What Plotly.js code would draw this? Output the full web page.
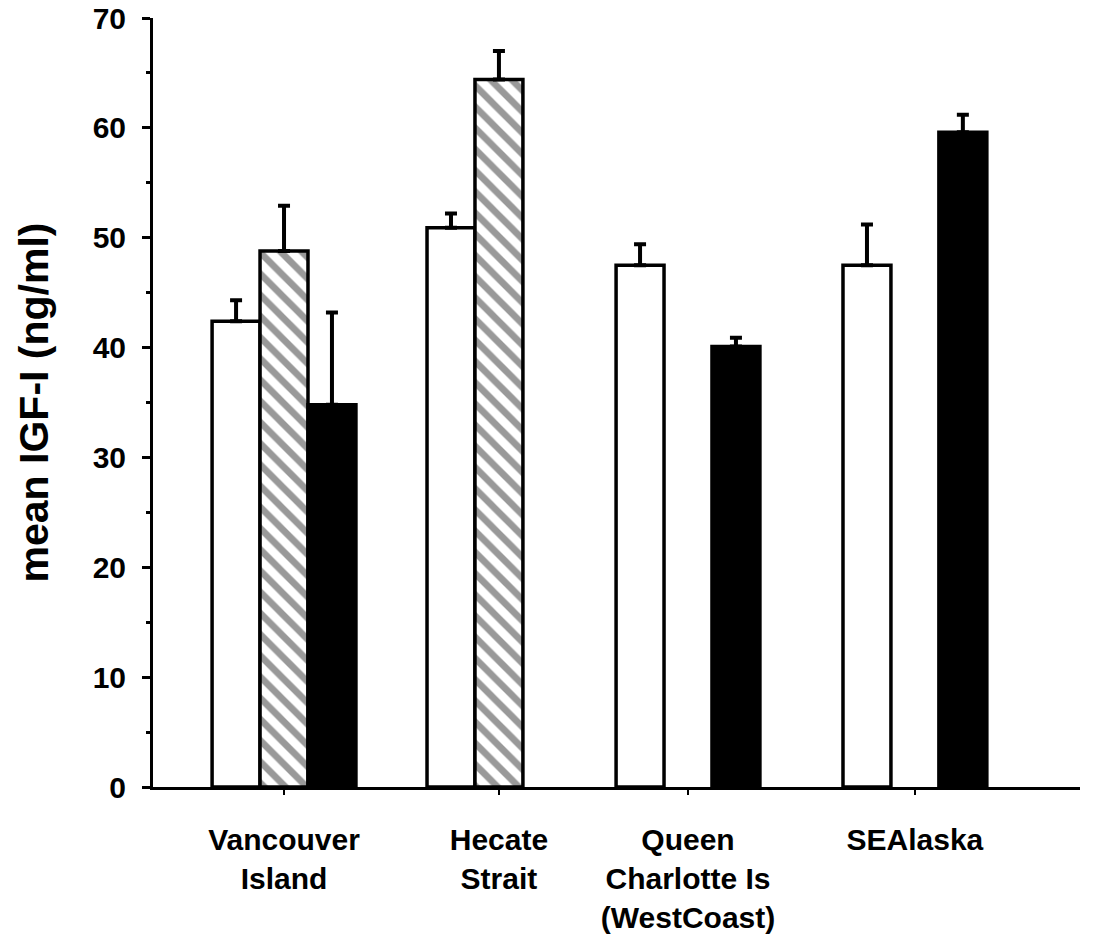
<!DOCTYPE html>
<html><head><meta charset="utf-8">
<script src="https://cdn.plot.ly/plotly-3.0.1.min.js"></script>
<style>html,body{margin:0;padding:0;background:#fff}</style>
</head><body><div id="chart" style="width:1105px;height:937px"></div>
<script>
// ---- data ----
const categories = ["Vancouver<br>Island", "Hecate<br>Strait", "Queen<br>Charlotte Is<br>(WestCoast)", "SEAlaska"];
const whiteMeans = [42.4, 50.9, 47.5, 47.5];
const whiteErr   = [1.9, 1.3, 1.9, 3.7];
const hatchMeans = [48.8, 64.4, null, null];
const hatchErr   = [4.1, 2.6, null, null];
const blackMeans = [34.8, null, 40.1, 59.6];
const blackErr   = [8.4, null, 0.8, 1.6];
const yTicks = [0, 10, 20, 30, 40, 50, 60, 70];
const yTitle = "mean IGF-I (ng/ml)";

// ---- layout helpers ----
const groupPos = [0, 1.022, 1.921, 3];
const barW = 0.228;
const FONT = "Liberation Sans, Arial, Helvetica, sans-serif";
const zeros = categories.map(() => 0);

function barTrace(y, err, slot, marker) {
  return {
    type: "bar", x: groupPos, y: y,
    width: barW, offset: -barW * 1.5 + slot * barW,
    marker: marker,
    error_y: {type: "data", symmetric: false, array: err, arrayminus: zeros,
              color: "#000", thickness: 4, width: 6},
    hoverinfo: "skip", showlegend: false
  };
}

const traces = [
  barTrace(whiteMeans, whiteErr, 0, {color: "#ffffff", line: {color: "#000", width: 3.5}}),
  barTrace(hatchMeans, hatchErr, 1, {color: "#ffffff", line: {color: "#000", width: 3.5},
    pattern: {shape: "\\", fgcolor: "#999999", fgopacity: 1, bgcolor: "#ffffff", size: 15, solidity: 0.45, fillmode: "overlay"}}),
  barTrace(blackMeans, blackErr, 2, {color: "#000000", line: {color: "#000", width: 3.5}})
];

const layout = {
  width: 1105, height: 937,
  margin: {l: 153, r: 25, t: 18, b: 150},
  paper_bgcolor: "#fff", plot_bgcolor: "#fff",
  barmode: "overlay",
  font: {family: FONT, color: "#000"},
  xaxis: {
    range: [-0.623, 3.785], showgrid: false, zeroline: false,
    showline: true, linecolor: "#000", linewidth: 3,
    tickmode: "array", tickvals: groupPos, ticktext: categories,
    ticks: "outside", ticklen: 5, tickwidth: 2, tickcolor: "#000",
    tickfont: {family: FONT, size: 30, color: "#000", weight: "bold"},
    ticklabelstandoff: 19
  },
  yaxis: {
    range: [0, 70], showgrid: false, zeroline: false,
    showline: true, linecolor: "#000", linewidth: 3,
    tickmode: "array", tickvals: yTicks, ticktext: yTicks.map(String),
    ticks: "outside", ticklen: 8, tickwidth: 3, tickcolor: "#000",
    minor: {dtick: 5, tick0: 0, ticks: "outside", ticklen: 4, tickwidth: 3, tickcolor: "#000"},
    tickfont: {family: FONT, size: 30, color: "#000", weight: "bold"},
    ticklabelstandoff: 10,
    title: {text: yTitle, font: {family: FONT, size: 41, color: "#000", weight: "bold"}, standoff: 32}
  }
};

Plotly.newPlot("chart", traces, layout, {displayModeBar: false, staticPlot: true});
</script>
</body></html>
